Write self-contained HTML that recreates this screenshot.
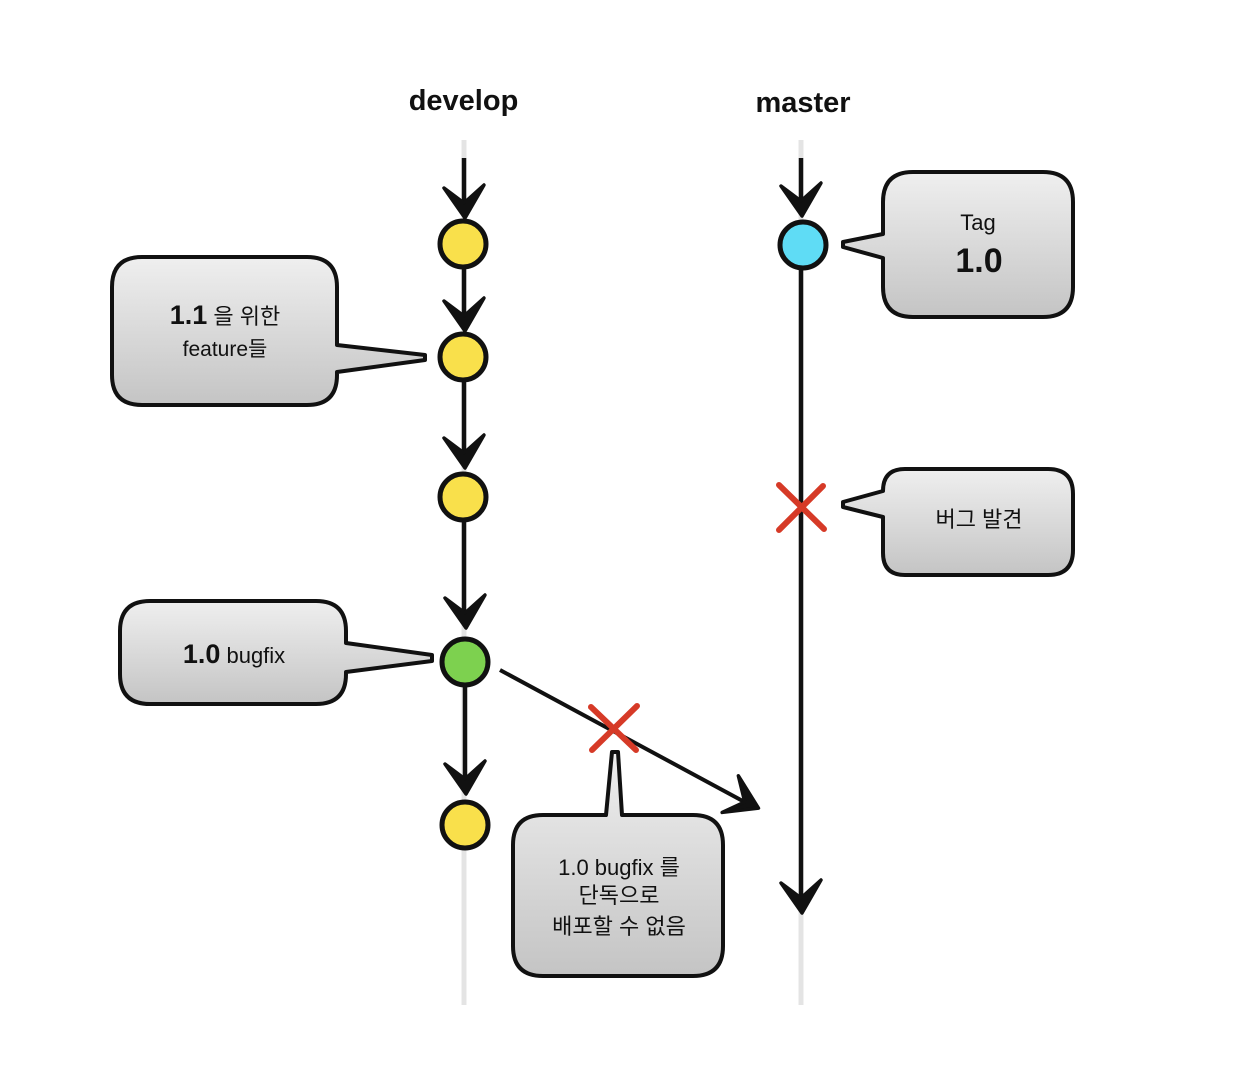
<!DOCTYPE html>
<html><head><meta charset="utf-8"><style>
html,body{margin:0;padding:0;background:#fff;}
svg{display:block;}
text{font-family:"Liberation Sans","Noto Sans CJK KR",sans-serif;fill:#111;}
</style></head><body>
<svg width="1250" height="1066" viewBox="0 0 1250 1066" xmlns="http://www.w3.org/2000/svg">
<defs>
<linearGradient id="g" x1="0" y1="0" x2="0" y2="1">
<stop offset="0" stop-color="#efefef"/><stop offset="1" stop-color="#c4c4c4"/>
</linearGradient>
<path id="ah" d="M-20,-30 L0,-15 L20,-33 L1,0 Z" fill="#111" stroke="#111" stroke-width="3.5" stroke-linejoin="round"/>
</defs>

<!-- faint background lines -->
<line x1="464" y1="140" x2="464" y2="1005" stroke="#e4e4e4" stroke-width="5"/>
<line x1="801" y1="140" x2="801" y2="1005" stroke="#e4e4e4" stroke-width="5"/>

<!-- titles -->
<text x="463.5" y="110" font-size="29" font-weight="bold" text-anchor="middle">develop</text>
<text x="803" y="112" font-size="29" font-weight="bold" text-anchor="middle">master</text>

<!-- develop black segments -->
<g stroke="#111" stroke-width="4.5" fill="none">
<line x1="464" y1="158" x2="464" y2="212"/>
<line x1="464" y1="268" x2="464" y2="325"/>
<line x1="464" y1="381" x2="464" y2="462"/>
<line x1="464" y1="521" x2="464" y2="622"/>
<line x1="465" y1="686" x2="465" y2="788"/>
<!-- master -->
<line x1="801" y1="158" x2="801" y2="210"/>
<line x1="801" y1="270" x2="801" y2="905"/>
<!-- diagonal -->
<line x1="500" y1="670" x2="752" y2="806" stroke-width="4"/>
</g>

<!-- arrowheads -->
<use href="#ah" transform="translate(464,218)"/>
<use href="#ah" transform="translate(464,331)"/>
<use href="#ah" transform="translate(464,468)"/>
<use href="#ah" transform="translate(465,628)"/>
<use href="#ah" transform="translate(465,794)"/>
<use href="#ah" transform="translate(801,216)"/>
<use href="#ah" transform="translate(801,913)"/>
<use href="#ah" transform="translate(758,809) rotate(-61.8)"/>

<!-- nodes -->
<g stroke="#111" stroke-width="5">
<circle cx="463" cy="244" r="23" fill="#f9e04b"/>
<circle cx="463" cy="357" r="23" fill="#f9e04b"/>
<circle cx="463" cy="497" r="23" fill="#f9e04b"/>
<circle cx="465" cy="662" r="23" fill="#7dd14f"/>
<circle cx="465" cy="825" r="23" fill="#f9e04b"/>
<circle cx="803" cy="245" r="23" fill="#5fdcf5"/>
</g>

<!-- red X marks -->
<g stroke="#d63a27" stroke-width="6" stroke-linecap="round">
<line x1="779" y1="485" x2="824" y2="529"/>
<line x1="823" y1="486" x2="779" y2="530"/>
<line x1="591" y1="707" x2="636" y2="750"/>
<line x1="637" y1="706" x2="592" y2="750"/>
</g>

<!-- callouts -->
<g fill="url(#g)" stroke="#111" stroke-width="4" stroke-linejoin="round">
<path d="M142,257 H307 Q337,257 337,287 V345 L425,355 L425,360 L337,372 V375 Q337,405 307,405 H142 Q112,405 112,375 V287 Q112,257 142,257 Z"/>
<path d="M913,172 H1043 Q1073,172 1073,202 V287 Q1073,317 1043,317 H913 Q883,317 883,287 V258 L843,247 L843,242 L883,234 V202 Q883,172 913,172 Z"/>
<path d="M905,469 H1048 Q1073,469 1073,494 V550 Q1073,575 1048,575 H905 Q883,575 883,553 V517 L843,507 L843,502 L883,491 Q883,469 905,469 Z"/>
<path d="M150,601 H316 Q346,601 346,631 V643 L432,655 L432,661 L346,672 V674 Q346,704 316,704 H150 Q120,704 120,674 V631 Q120,601 150,601 Z"/>
<path d="M543,815 H606 L612,752 L618,752 L622,815 H693 Q723,815 723,845 V946 Q723,976 693,976 H543 Q513,976 513,946 V845 Q513,815 543,815 Z"/>
</g>

<!-- callout text -->
<text x="225" y="324" text-anchor="middle"><tspan font-size="27" font-weight="bold">1.1</tspan><tspan font-size="22"> 을 위한</tspan></text>
<text x="225" y="356" text-anchor="middle" font-size="21">feature들</text>

<text x="978" y="230" text-anchor="middle" font-size="22">Tag</text>
<text x="979" y="272" text-anchor="middle" font-size="34" font-weight="bold">1.0</text>

<text x="979" y="527" text-anchor="middle" font-size="22">버그 발견</text>

<text x="234" y="663" text-anchor="middle"><tspan font-size="27" font-weight="bold">1.0</tspan><tspan font-size="22"> bugfix</tspan></text>

<text x="619" y="875" text-anchor="middle" font-size="22">1.0 bugfix 를</text>
<text x="619" y="903" text-anchor="middle" font-size="22">단독으로</text>
<text x="619" y="934" text-anchor="middle" font-size="22">배포할 수 없음</text>
</svg>
</body></html>
